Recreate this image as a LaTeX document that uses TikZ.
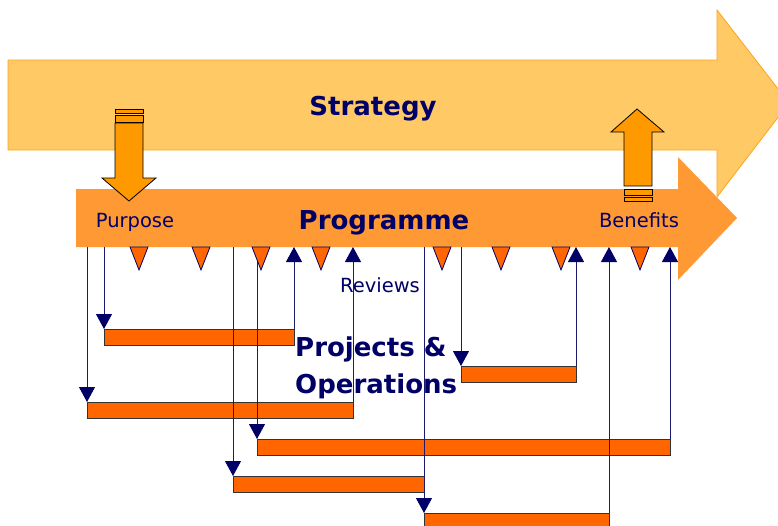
\documentclass[tikz,border=0pt]{standalone}
\usepackage{fontspec}
\setmainfont{DejaVu Sans}
\usetikzlibrary{arrows.meta}
\definecolor{navy}{HTML}{000066}
\definecolor{linkblue}{HTML}{1A1A6E}
\definecolor{stratfill}{HTML}{FFC966}
\definecolor{stratedge}{HTML}{FFA31A}
\definecolor{progfill}{HTML}{FF9933}
\definecolor{bigarrow}{HTML}{FF9900}
\definecolor{barfill}{HTML}{FF6600}
\tikzset{
  label/.style={text=navy, inner sep=0pt, anchor=base, font=\fontsize{19.5}{22}\selectfont},
  title/.style={text=navy, inner sep=0pt, anchor=base, font=\fontsize{26}{30}\selectfont\bfseries},
  bar/.style={draw=black!80, line width=0.8pt, fill=barfill, anchor=north west,
    minimum height=16, inner sep=0pt, outer sep=0pt},
  flow/.style={draw=linkblue, line width=0.9pt,
    -{Triangle[width=16pt,length=15pt,fill=navy,color=navy]}},
  marker/.style={draw=navy, line width=0.8pt, fill=barfill, line join=miter},
  bold arrow/.style={draw=black, line width=0.8pt, fill=bigarrow, line join=miter}
}
\begin{document}
\begin{tikzpicture}[x=1pt,y=-1pt]
\useasboundingbox (0,0) rectangle (778,525);
\begin{scope}
\clip (0,0) rectangle (778,525);
% strategy arrow
\draw[fill=stratfill, draw=stratedge, line width=0.8pt]
  (8,60) -- (717,60) -- (717,10) -- (789,103) -- (717,197) -- (717,150) -- (8,150) -- cycle;
% programme arrow
\fill[progfill]
  (76,189) -- (678,189) -- (678,157) -- (737,218) -- (678,280) -- (678,247) -- (76,247) -- cycle;
\end{scope}
\coordinate (pb) at (0,247);

% purpose: strategy feeds down into the programme
\draw[bold arrow] (115,123) -- (143,123) -- (143,178) -- (156,178) -- (129,201)
  -- (102,178) -- (115,178) -- cycle;
\draw[bold arrow] (115,115) rectangle (143,122);
\draw[bold arrow] (115,109) rectangle (143,113);
% benefits: programme feeds back up into the strategy
\draw[bold arrow] (624,186) -- (652,186) -- (652,132) -- (664,132) -- (637,109)
  -- (611,132) -- (624,132) -- cycle;
\draw[bold arrow] (624,189) rectangle (652,195);
\draw[bold arrow] (624,197) rectangle (652,201);

% projects and operations
\node[bar, minimum width=190] (p1) at (104,329) {};
\node[bar, minimum width=266] (p2) at (87,402) {};
\node[bar, minimum width=413] (p3) at (257,439) {};
\node[bar, minimum width=191] (p4) at (233,476) {};
\node[bar, minimum width=185] (p5) at (424,513) {};
\node[bar, minimum width=115] (p6) at (461,366) {};

% start-up links from the programme
\foreach \p in {p1,p2,p3,p4,p5,p6}
  \draw[flow] (\p.north west |- pb) -- (\p.north west);
% outcome links back to the programme
\foreach \p in {p1,p2,p3,p5,p6}
  \draw[flow] (\p.north east) -- (\p.north east |- pb);

% review points
\foreach \x in {139,201,261,321,442,501,561,640}
  \draw[marker] (\x-9,247) -- (\x+9,247) -- (\x,270) -- cycle;

% texts
\node[title] (strat) at (373,115) {Strategy};
\node[title] (prog) at (384,229) {Programme};
\node[label] (purp) at (135,227) {Purpose};
\node[label] (bene) at (639,227) {Benefits};
\node[label] (rev) at (380,292) {Reviews};
\node[title, anchor=base west] (proj) at (295,356) {Projects \&};
\node[title, anchor=base west] (ops) at (295,393) {Operations};
\end{tikzpicture}
\end{document}
